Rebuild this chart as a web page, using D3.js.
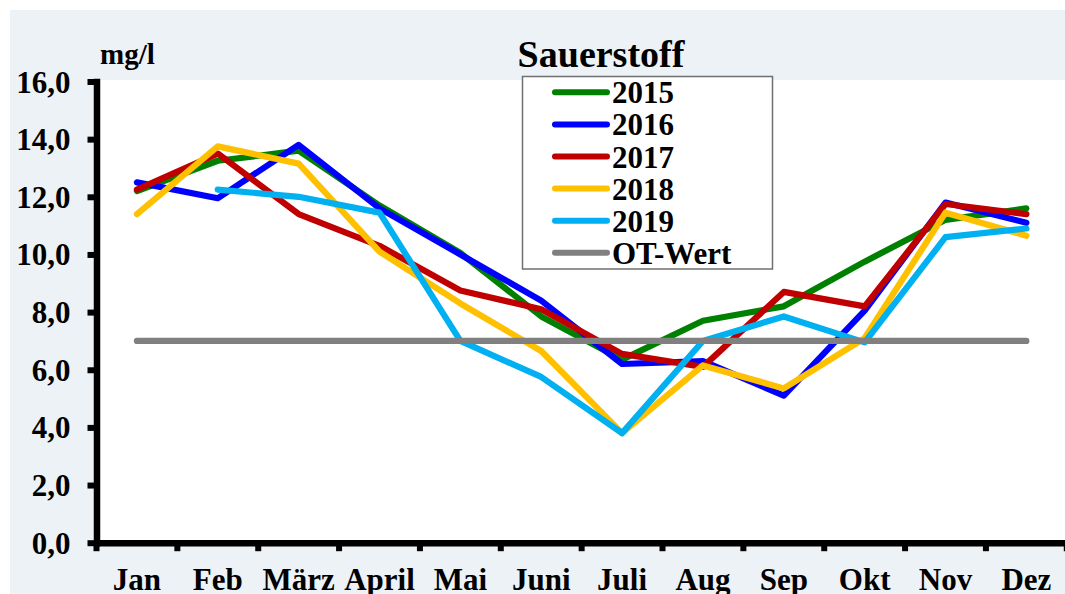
<!DOCTYPE html>
<html>
<head>
<meta charset="utf-8">
<script src="https://cdn.jsdelivr.net/npm/d3@7"></script>
<style>
  html, body { margin: 0; padding: 0; background: #fff; }
  svg { display: block; }
  text { font-family: "Liberation Serif", "Times New Roman", serif; font-weight: bold; fill: #000; }
</style>
</head>
<body>
<svg id="chart" width="1065" height="594"></svg>
<script>
// ---- data ----
const months = ["Jan", "Feb", "März", "April", "Mai", "Juni", "Juli", "Aug", "Sep", "Okt", "Nov", "Dez"];
const seriesNames = ["2015", "2016", "2017", "2018", "2019", "OT-Wert"];
const v2015 = [12.2, 13.25, 13.6, 11.7, 10.05, 7.85, 6.35, 7.7, 8.2, 9.75, 11.2, 11.6];
const v2016 = [12.5, 11.95, 13.8, 11.6, 10.0, 8.4, 6.2, 6.3, 5.1, 8.05, 11.8, 11.1];
const v2017 = [12.25, 13.5, 11.4, 10.3, 8.75, 8.1, 6.55, 6.1, 8.7, 8.2, 11.75, 11.4];
const v2018 = [11.4, 13.75, 13.15, 10.1, 8.3, 6.65, 3.8, 6.15, 5.35, 7.1, 11.45, 10.65];
const v2019 = [null, 12.25, 12.0, 11.45, 7.0, 5.75, 3.8, 7.0, 7.85, 6.95, 10.6, 10.9];
const vOT = [7, 7, 7, 7, 7, 7, 7, 7, 7, 7, 7, 7];
const yTicks = [0, 2, 4, 6, 8, 10, 12, 14, 16];
const titleText = "Sauerstoff";
const unitText = "mg/l";

const seriesValues = [v2015, v2016, v2017, v2018, v2019, vOT];
const colors = ["#008000", "#0000FF", "#C00000", "#FFC000", "#00B0F0", "#808080"];

// ---- layout ----
const svg = d3.select("#chart");
const x0 = 96.5, x1 = 1066.8, yTop = 81.5, yBot = 542.7;

svg.append("rect").attr("x", 10).attr("y", 10).attr("width", 1055).attr("height", 584).attr("fill", "#EDF2F7");
svg.append("rect").attr("x", x0).attr("y", 80).attr("width", 1065 - x0).attr("height", yBot - 80).attr("fill", "#fff");

const x = d3.scaleBand().domain(months).range([x0, x1]).padding(0);
const y = d3.scaleLinear().domain([0, 16]).range([yBot, yTop]);
const cx = m => x(m) + x.bandwidth() / 2;

// ---- lines ----
const line = d3.line()
  .defined(d => d.v != null)
  .x(d => cx(d.m))
  .y(d => y(d.v));

seriesValues.forEach((vals, i) => {
  svg.append("path")
    .datum(months.map((m, j) => ({ m, v: vals[j] })))
    .attr("d", line)
    .attr("fill", "none")
    .attr("stroke", colors[i])
    .attr("stroke-width", 6.2)
    .attr("stroke-linejoin", "round")
    .attr("stroke-linecap", "round");
});

// ---- axes ----
const fmt = d => d3.format(".1f")(d).replace(".", ",");
const yAxis = svg.append("g")
  .attr("transform", `translate(${x0},0)`)
  .call(d3.axisLeft(y).tickValues(yTicks).tickFormat(fmt).tickSize(9).tickSizeOuter(0).tickPadding(17));
yAxis.select(".domain").attr("stroke", "#000").attr("stroke-width", 6.5).attr("stroke-linecap", "square");
yAxis.selectAll(".tick line").attr("stroke", "#000").attr("stroke-width", 6);
yAxis.selectAll(".tick text").attr("font-size", 31).attr("font-family", null).attr("dy", "0.34em");

const xAxis = svg.append("g")
  .attr("transform", `translate(0,${yBot})`)
  .call(d3.axisBottom(x).tickSize(0).tickSizeOuter(0));
xAxis.select(".domain").attr("stroke", "#000").attr("stroke-width", 6.5);
xAxis.selectAll(".tick text").attr("font-size", 31).attr("font-family", null).attr("y", 47.3).attr("dy", 0);
// tick marks at category boundaries
const bounds = months.map(m => x(m)).concat([x.range()[1]]);
xAxis.selectAll("line.bnd").data(bounds).join("line")
  .attr("class", "bnd")
  .attr("x1", d => d).attr("x2", d => d)
  .attr("y1", 0).attr("y2", 8.5)
  .attr("stroke", "#000").attr("stroke-width", 6);

// ---- titles ----
svg.append("text").attr("x", 601).attr("y", 66.5).attr("text-anchor", "middle").attr("font-size", 38).text(titleText);
svg.append("text").attr("x", 100).attr("y", 64).attr("font-size", 29).text(unitText);

// ---- legend ----
const lg = svg.append("g");
lg.append("rect").attr("x", 522.5).attr("y", 76.5).attr("width", 250).attr("height", 192.5)
  .attr("fill", "#fff").attr("stroke", "#6f6f6f").attr("stroke-width", 1.5);
seriesNames.forEach((name, i) => {
  const cy = 92.3 + i * 32.1;
  lg.append("line").attr("x1", 555).attr("x2", 607).attr("y1", cy).attr("y2", cy)
    .attr("stroke", colors[i]).attr("stroke-width", 6).attr("stroke-linecap", "round");
  lg.append("text").attr("x", 612).attr("y", cy + 11).attr("font-size", 31).text(name);
});
</script>
</body>
</html>
